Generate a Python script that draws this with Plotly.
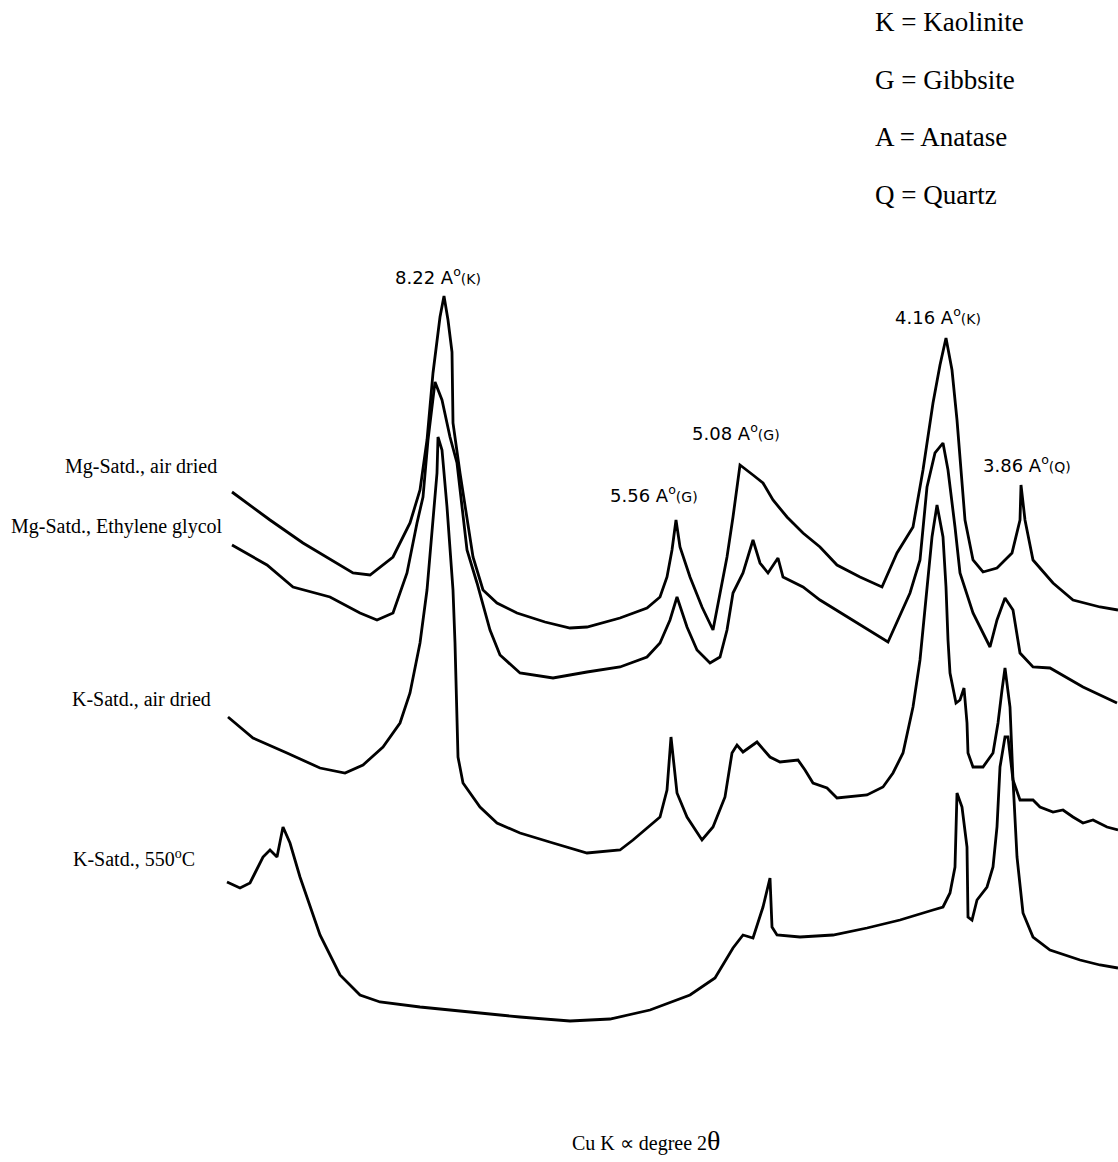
import plotly.graph_objects as go

# Diffractogram traces (horizontal position ~ degree 2θ scale, vertical position on the page;
# larger intensity = smaller vertical value, axis reversed)
mg_air = [(232,492),(270,520),(303,543),(353,573),(370,575),(393,557),(410,523),(420,490),(427,440),
          (433,373),(440,317),(444,296),(448,320),(452,352),(453,423),(460,473),(473,557),(483,590),
          (497,603),(517,613),(545,622),(570,628),(587,627),(620,618),(647,608),(660,597),(667,577),
          (672,550),(676,520),(680,547),(690,577),(702,607),(713,630),(717,610),(727,557),(733,517),
          (740,465),(753,475),(763,483),(773,500),(787,517),(803,533),(820,547),(837,565),(860,577),
          (882,587),(897,553),(913,527),(923,470),(933,403),(940,365),(946,338),(952,370),(957,420),
          (965,520),(973,560),(983,572),(997,568),(1012,553),(1020,520),(1021,485),(1025,520),
          (1033,560),(1053,583),(1073,600),(1100,607),(1118,610)]

mg_eg = [(232,545),(267,565),(293,587),(330,597),(360,613),(377,620),(393,613),(407,573),(417,523),
         (423,497),(428,440),(435,382),(442,400),(450,437),(457,463),(462,507),(467,550),(477,583),
         (490,630),(500,655),(520,673),(553,678),(587,672),(620,667),(647,657),(660,643),(670,620),
         (677,597),(687,627),(697,650),(710,663),(720,657),(727,630),(733,593),(743,573),(753,540),
         (760,563),(768,573),(778,558),(783,577),(803,587),(820,600),(853,620),(888,642),(910,593),
         (920,560),(927,487),(935,453),(943,443),(948,470),(955,527),(960,573),(973,613),(990,647),
         (997,620),(1005,598),(1013,610),(1020,653),(1033,667),(1050,668),(1083,687),(1117,703)]

k_air = [(228,717),(253,738),(287,753),(320,768),(345,773),(363,765),(383,747),(400,723),(410,693),
         (417,660),(420,643),(427,590),(433,523),(437,473),(438,437),(442,450),(447,507),(453,590),
         (455,643),(457,707),(458,757),(463,783),(480,807),(497,823),(520,833),(553,843),(587,853),
         (620,850),(633,840),(660,817),(667,790),(671,737),(677,793),(687,817),(702,840),(713,827),
         (725,797),(732,753),(737,745),(743,752),(757,742),(770,757),(780,762),(798,760),(805,770),
         (813,783),(827,788),(837,798),(867,795),(883,787),(893,773),(903,753),(913,707),(920,660),
         (927,587),(932,537),(937,505),(943,537),(946,587),(948,640),(950,673),(956,703),(960,700),
         (964,688),(967,723),(968,753),(973,767),(983,767),(993,753),(998,723),(1002,690),(1005,668),
         (1010,707),(1013,780),(1020,800),(1033,800),(1040,807),(1053,812),(1063,810),(1073,817),
         (1083,823),(1093,820),(1107,827),(1118,830)]

k_550 = [(227,882),(240,888),(250,883),(263,857),(270,850),(277,857),(283,827),(290,843),(300,877),
         (320,935),(340,975),(360,995),(380,1002),(420,1007),(470,1012),(520,1017),(570,1021),
         (610,1019),(650,1010),(690,995),(715,978),(733,948),(743,935),(753,938),(763,907),(770,878),
         (772,927),(777,935),(800,937),(833,935),(867,928),(900,920),(933,910),(943,907),(950,893),
         (955,867),(957,793),(962,807),(967,847),(968,917),(972,920),(977,900),(987,887),(993,867),
         (997,827),(1000,767),(1005,737),(1008,737),(1013,780),(1017,857),(1023,913),(1033,937),
         (1050,950),(1080,960),(1100,965),(1118,968)]

series_names = ["Mg-Satd., air dried", "Mg-Satd., Ethylene glycol", "K-Satd., air dried", "K-Satd., 550°C"]
series_data = [mg_air, mg_eg, k_air, k_550]

peak_labels = ["8.22", "5.08", "5.56", "4.16", "3.86"]
peak_minerals = ["K", "G", "G", "K", "Q"]
legend_lines = ["K = Kaolinite", "G = Gibbsite", "A = Anatase", "Q = Quartz"]
x_title = "Cu K ∝ degree 2<span style='font-size:28px'>θ</span>"

fig = go.Figure()
for name, pts in zip(series_names, series_data):
    fig.add_trace(go.Scatter(
        x=[p[0] for p in pts], y=[p[1] for p in pts], mode="lines", name=name,
        line=dict(color="black", width=2.8), hoverinfo="skip", showlegend=False))

serif = "Liberation Serif"
hand = "DejaVu Sans"

# series labels on the left
label_pos = [(141, 466), (117, 526), (141, 699), (134, 858)]
for name, (lx, ly) in zip(series_names, label_pos):
    txt = name.replace("550°C", "550<sup>o</sup>C")
    fig.add_annotation(x=lx, y=ly, text=txt, showarrow=False, xanchor="center", yanchor="middle",
                       font=dict(family=serif, size=20, color="black"))

# peak annotations
peak_pos = [(438, 276), (736, 432), (654, 494), (938, 316), (1027, 464)]
for d, m, (px, py) in zip(peak_labels, peak_minerals, peak_pos):
    fig.add_annotation(x=px, y=py, showarrow=False, xanchor="center", yanchor="middle",
                       text=f"{d} A<sup>o</sup><span style='font-size:14px'>({m})</span>",
                       font=dict(family=hand, size=18, color="black"))

# mineral key at top right
for i, t in enumerate(legend_lines):
    fig.add_annotation(x=873, y=22 + i * 57.7, text=t, showarrow=False, xanchor="left",
                       yanchor="middle", font=dict(family=serif, size=27, color="black"))

fig.add_annotation(x=646, y=1140, text=x_title, showarrow=False, xanchor="center", yanchor="middle",
                   font=dict(family=serif, size=20, color="black"))

fig.update_layout(
    width=1118, height=1162, margin=dict(l=0, r=0, t=0, b=0), autosize=False,
    paper_bgcolor="white", plot_bgcolor="white",
    xaxis=dict(range=[0, 1118], visible=False, fixedrange=True),
    yaxis=dict(range=[1162, 0], visible=False, fixedrange=True),
)
fig.write_html("out.html", config={"responsive": False, "displayModeBar": False},
               post_script="document.body.style.margin='0px';document.body.style.overflow='hidden';")
